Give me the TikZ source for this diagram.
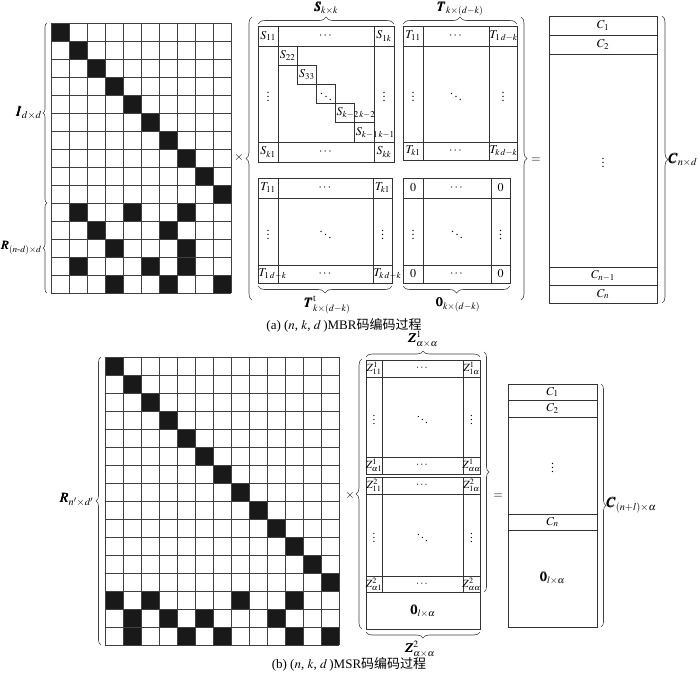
\documentclass[tikz,border=0pt]{standalone}
\usepackage{amsmath}
\usepackage{mathptmx}
\usepackage{bm}
\usepackage{fontspec}
\setmainfont{Liberation Serif}
\newfontfamily\cjk{Noto Sans CJK SC}
\usetikzlibrary{decorations.pathreplacing,calc}
\newcommand{\mgrid}[9]{%
 \draw[mline] (#2,#3) rectangle (#4,#5);
 \draw[mline] (#6,#3) -- (#6,#5) (#7,#3) -- (#7,#5) (#2,#8) -- (#4,#8) (#2,#9) -- (#4,#9);
 \coordinate (#1-xa) at ({(#2+#6)/2},0);
 \coordinate (#1-xb) at ({(#6+#7)/2},0);
 \coordinate (#1-xc) at ({(#7+#4)/2},0);
 \coordinate (#1-xw) at ({#6},0);
 \coordinate (#1-xe) at ({#7},0);
 \coordinate (#1-xl) at ({#2},0);
 \coordinate (#1-ya) at (0,{(#3+#8)/2});
 \coordinate (#1-yb) at (0,{(#8+#9)/2});
 \coordinate (#1-yc) at (0,{(#9+#5)/2});
}
\newcommand{\mlab}[4]{\node[cell] (#1-#2#3) at (#1-x#2 |- #1-y#3) {#4};}
\newcommand{\mlabw}[5]{\node[cell,anchor=west] (#1-#3#4) at (#1-x#2 |- #1-y#4) {#5};}
\begin{document}
\begin{tikzpicture}[x=1pt,y=-1pt,font=\fontsize{12}{14}\selectfont,
  mline/.style={line width=0.7pt,color=black!80},
  gline/.style={line width=0.7pt,color=black!75},
  blk/.style={fill=black!90},
  brc/.style={decorate,decoration={brace,amplitude=#1},line width=0.6pt,color=black!75},
  cell/.style={inner sep=0.5pt},
  lab/.style={inner sep=1pt},
  big/.style={lab,font=\fontsize{14}{16}\selectfont},
  mid/.style={lab,font=\fontsize{13}{15}\selectfont}]
\useasboundingbox (0,0) rectangle (700,672);
% ---------------- (a) grid
\foreach \r/\c in {0/0,1/1,2/2,3/3,4/4,5/5,6/6,7/7,8/8,9/9,
  10/1,10/4,10/7,11/2,11/6,12/3,12/7,13/1,13/5,13/7,14/3,14/6,14/9}
  \fill[blk] ({51+18*\c},{23+18*\r}) rectangle ++(18,18);
\foreach \i in {0,...,10} \draw[gline] ({51+18*\i},23) -- ({51+18*\i},293);
\foreach \j in {0,...,15} \draw[gline] (51,{23+18*\j}) -- (231,{23+18*\j});
\draw[brc=4] (47,203) -- (47,23);
\draw[brc=4] (47,293) -- (47,203);
\node[big,anchor=east] (Ilab) at (43,113) {$\bm{I}_{d\times d}$};
\node[lab,anchor=east,font=\fontsize{12.5}{14}\selectfont] (Rlab) at (43,248) {$\bm{R}_{(n\text{-}d)\times d}$};
% multiply
\node[lab,anchor=east] (timesA) at (245,157) {$\times$};
\draw[brc=6] (252,300) -- (252,17);
% S block
\mgrid{S}{258}{26}{394}{162}{278}{374}{46}{142}
\mlab{S}{a}{a}{$S_{11}$} \mlab{S}{b}{a}{$\cdots$} \mlab{S}{c}{a}{$S_{1k}$}
\mlab{S}{a}{b}{$\vdots$} \mlab{S}{c}{b}{$\vdots$}
\mlab{S}{a}{c}{$S_{k1}$} \mlab{S}{b}{c}{$\cdots$} \mlab{S}{c}{c}{$S_{kk}$}
\foreach \q in {0,...,4} \draw[mline] ({278+19.2*\q},{46+19.2*\q}) rectangle ++(19.2,19.2);
\node[cell] (S22) at (287.6,55.6) {$S_{22}$};
\node[cell] (S33) at (306.8,74.8) {$S_{33}$};
\node[cell] (Sdd) at (326,94) {$\ddots$};
\node[cell,anchor=west] (Sk2) at (336,113.2) {$S_{k-2\,k-2}$};
\node[cell,anchor=west] (Sk1) at (355.2,132.4) {$S_{k-1\,k-1}$};
\draw[brc=7] (258,24) -- (394,24);
\node[mid,anchor=base] (Slab) at (326,11) {$\bm{S}_{k\times k}$};
% T block
\mgrid{T}{403}{26}{517}{160}{423}{489}{46}{142}
\mlab{T}{a}{a}{$T_{11}$} \mlab{T}{b}{a}{$\cdots$} \mlabw{T}{e}{c}{a}{$T_{1\,d-k}$}
\mlab{T}{a}{b}{$\vdots$} \mlab{T}{b}{b}{$\ddots$} \mlab{T}{c}{b}{$\vdots$}
\mlab{T}{a}{c}{$T_{k1}$} \mlab{T}{b}{c}{$\cdots$} \mlabw{T}{e}{c}{c}{$T_{k\,d-k}$}
\draw[brc=7] (403,24) -- (517,24);
\node[mid,anchor=base] (Tlab) at (460,11) {$\bm{T}_{k\times(d-k)}$};
% T^t block
\mgrid{Tt}{258}{178}{392}{283}{278}{373}{198}{265}
\mlab{Tt}{a}{a}{$T_{11}$} \mlab{Tt}{b}{a}{$\cdots$} \mlab{Tt}{c}{a}{$T_{k1}$}
\mlab{Tt}{a}{b}{$\vdots$} \mlab{Tt}{b}{b}{$\ddots$} \mlab{Tt}{c}{b}{$\vdots$}
\mlabw{Tt}{l}{a}{c}{$T_{1\,d-k}$} \mlab{Tt}{b}{c}{$\cdots$} \mlabw{Tt}{e}{c}{c}{$T_{k\,d-k}$}
\draw[brc=7] (392,286) -- (258,286);
\node[mid] (Ttlab) at (327,305) {$\bm{T}^{\mathrm{t}}_{k\times(d-k)}$};
% zero block
\mgrid{O}{403}{178}{510}{283}{423}{491}{198}{265}
\mlab{O}{a}{a}{$0$} \mlab{O}{b}{a}{$\cdots$} \mlab{O}{c}{a}{$0$}
\mlab{O}{a}{b}{$\vdots$} \mlab{O}{b}{b}{$\ddots$} \mlab{O}{c}{b}{$\vdots$}
\mlab{O}{a}{c}{$0$} \mlab{O}{b}{c}{$\cdots$} \mlab{O}{c}{c}{$0$}
\draw[brc=7] (510,286) -- (403,286);
\node[mid] (Olab) at (458,305) {$\bm{0}_{k\times(d-k)}$};
% right big brace and equals
\draw[brc=6] (521,17) -- (521,300);
\node[lab] (eqA) at (536,160) {$=$};
% C column (a)
\draw[mline] (549,16) rectangle (657,303);
\foreach \y in {35,54,267,285} \draw[mline] (549,\y) -- (657,\y);
\node[cell] (C1a) at (603,25.5) {$C_1$};
\node[cell] (C2a) at (603,44.5) {$C_2$};
\node[cell] (Cda) at (603,160) {$\vdots$};
\node[cell] (Cn1a) at (603,276) {$C_{n-1}$};
\node[cell] (Cna) at (603,294) {$C_n$};
\draw[brc=6] (662,16) -- (662,303);
\node[big,anchor=west] (Clab) at (667,160) {$\bm{C}_{n\times d}$};
\node[lab] (capa) at (344,325) {\fontsize{13}{15}\selectfont (a) ($n$, $k$, $d$\,)MBR{\cjk 码编码过程}};
% ---------------- (b) grid
\foreach \r/\c in {0/0,1/1,2/2,3/3,4/4,5/5,6/6,7/7,8/8,9/9,10/10,11/11,12/12,
  13/0,13/2,13/7,13/10,14/1,14/3,14/5,14/9,15/1,15/4,15/6,15/10,15/12}
  \fill[blk] ({105+18*\c},{357+18*\r}) rectangle ++(18,18);
\foreach \i in {0,...,13} \draw[gline] ({105+18*\i},357) -- ({105+18*\i},645);
\foreach \j in {0,...,16} \draw[gline] (105,{357+18*\j}) -- (339,{357+18*\j});
\draw[brc=5] (101,645) -- (101,357);
\node[big,anchor=east] (Rblab) at (95,500) {$\bm{R}_{n'\times d'}$};
\node[lab,anchor=east] (timesB) at (356,495) {$\times$};
\draw[brc=6] (362,629) -- (362,359);
% Z blocks
\begin{scope}[font=\fontsize{11}{13}\selectfont]
\mgrid{Za}{366}{360}{480}{474}{382}{463}{377}{457}
\mlab{Za}{a}{a}{$Z^1_{11}$} \mlab{Za}{b}{a}{$\cdots$} \mlab{Za}{c}{a}{$Z^1_{1\alpha}$}
\mlab{Za}{a}{b}{$\vdots$} \mlab{Za}{b}{b}{$\ddots$} \mlab{Za}{c}{b}{$\vdots$}
\mlab{Za}{a}{c}{$Z^1_{\alpha1}$} \mlab{Za}{b}{c}{$\cdots$} \mlab{Za}{c}{c}{$Z^1_{\alpha\alpha}$}
\mgrid{Zb}{366}{477}{480}{592}{382}{463}{494}{576}
\mlab{Zb}{a}{a}{$Z^2_{11}$} \mlab{Zb}{b}{a}{$\cdots$} \mlab{Zb}{c}{a}{$Z^2_{1\alpha}$}
\mlab{Zb}{a}{b}{$\vdots$} \mlab{Zb}{b}{b}{$\ddots$} \mlab{Zb}{c}{b}{$\vdots$}
\mlab{Zb}{a}{c}{$Z^2_{\alpha1}$} \mlab{Zb}{b}{c}{$\cdots$} \mlab{Zb}{c}{c}{$Z^2_{\alpha\alpha}$}
\end{scope}
\draw[mline] (366,592) rectangle (480,629);
\node[mid] (Zzero) at (423,611) {$\bm{0}_{l\times\alpha}$};
\draw[brc=6] (366,357) -- (480,357);
\node[mid] (Z1lab) at (423,339) {$\bm{Z}^1_{\alpha\times\alpha}$};
\draw[brc=5] (484,352) -- (484,592);
\draw[brc=6] (480,632) -- (366,632);
\node[mid] (Z2lab) at (420,649) {$\bm{Z}^2_{\alpha\times\alpha}$};
\node[lab] (eqB) at (498,496) {$=$};
% C column (b)
\draw[mline] (508,384) rectangle (597,627);
\foreach \y in {400,417,514,530} \draw[mline] (508,\y) -- (597,\y);
\node[cell] (C1b) at (552.5,392) {$C_1$};
\node[cell] (C2b) at (552.5,408.5) {$C_2$};
\node[cell] (Cdb) at (552.5,465) {$\vdots$};
\node[cell] (Cnb) at (552.5,522) {$C_n$};
\node[mid] (Czb) at (552.5,578) {$\bm{0}_{l\times\alpha}$};
\draw[brc=5] (601,384) -- (601,627);
\node[big,anchor=west] (Cblab) at (605,505) {$\bm{C}_{(n+l)\times\alpha}$};
\node[lab] (capb) at (349,664) {\fontsize{13}{15}\selectfont (b) ($n$, $k$, $d$\,)MSR{\cjk 码编码过程}};
\end{tikzpicture}
\end{document}
